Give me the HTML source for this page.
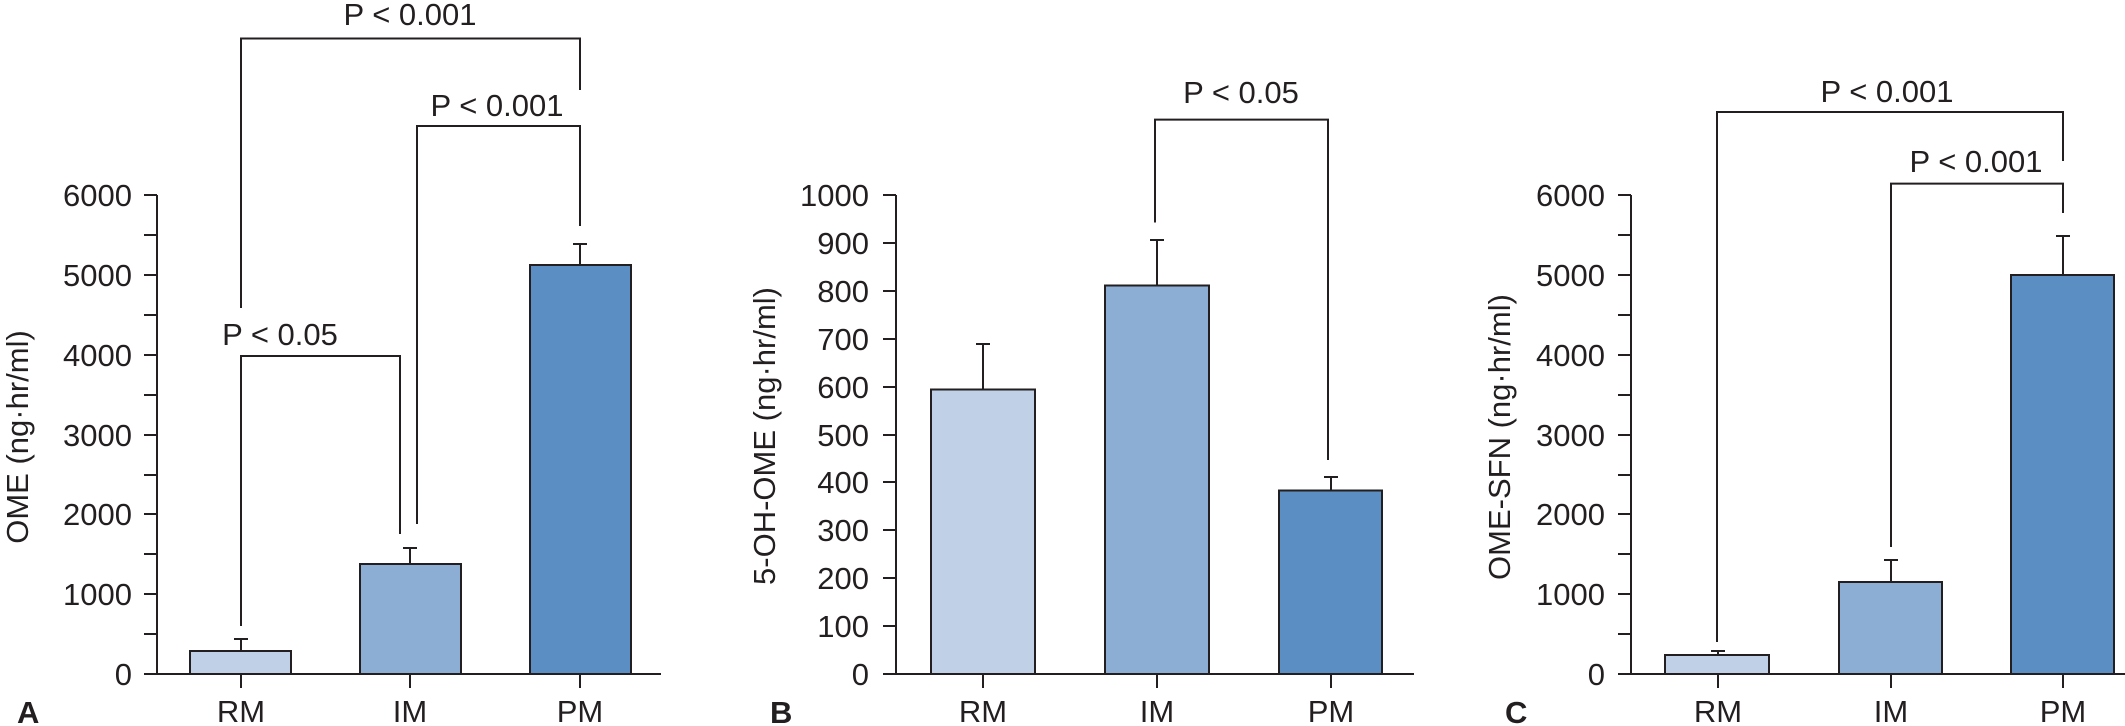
<!DOCTYPE html>
<html><head><meta charset="utf-8"><style>
html,body{margin:0;padding:0;background:#fff;}
svg{display:block;}
text{font-family:"Liberation Sans",sans-serif;fill:#231f20;}
</style></head><body>
<svg width="2125" height="726" viewBox="0 0 2125 726" xmlns="http://www.w3.org/2000/svg">
<g stroke="#231f20" stroke-width="2" fill="none">
<!-- Panel A -->
<line x1="157" y1="195" x2="157" y2="674"/>
<line x1="144" y1="674" x2="661" y2="674"/>
<line x1="144" y1="195" x2="157" y2="195"/>
<line x1="144" y1="235" x2="157" y2="235"/>
<line x1="144" y1="275" x2="157" y2="275"/>
<line x1="144" y1="315" x2="157" y2="315"/>
<line x1="144" y1="355" x2="157" y2="355"/>
<line x1="144" y1="395" x2="157" y2="395"/>
<line x1="144" y1="435" x2="157" y2="435"/>
<line x1="144" y1="475" x2="157" y2="475"/>
<line x1="144" y1="514" x2="157" y2="514"/>
<line x1="144" y1="554" x2="157" y2="554"/>
<line x1="144" y1="594" x2="157" y2="594"/>
<line x1="144" y1="634" x2="157" y2="634"/>
<line x1="241" y1="674" x2="241" y2="688"/>
<line x1="410" y1="674" x2="410" y2="688"/>
<line x1="580" y1="674" x2="580" y2="688"/>
</g>
<rect x="190" y="651" width="101" height="23" fill="#bfd0e7" stroke="#231f20" stroke-width="2"/>
<rect x="360" y="564" width="101" height="110" fill="#8daed4" stroke="#231f20" stroke-width="2"/>
<rect x="530" y="265" width="101" height="409" fill="#5b8fc3" stroke="#231f20" stroke-width="2"/>
<g stroke="#231f20" stroke-width="2" fill="none">
<path d="M241 651V639M234 639H248"/>
<path d="M410 564V548M403 548H417"/>
<path d="M580 265V244M573 244H587"/>
<path d="M241 308V38.5H580V90"/>
<path d="M417 524V126H580V226"/>
<path d="M241 626V356H400V534"/>
</g>
<g font-size="31" text-anchor="end">
<text x="132" y="206">6000</text>
<text x="132" y="286">5000</text>
<text x="132" y="366">4000</text>
<text x="132" y="446">3000</text>
<text x="132" y="525">2000</text>
<text x="132" y="605">1000</text>
<text x="132" y="685">0</text>
</g>
<g font-size="31" text-anchor="middle">
<text x="241" y="722">RM</text>
<text x="410" y="722">IM</text>
<text x="580" y="722">PM</text>
<text x="410" y="25">P &lt; 0.001</text>
<text x="497" y="116">P &lt; 0.001</text>
<text x="280" y="345">P &lt; 0.05</text>
<text transform="translate(28,437) rotate(-90)">OME (ng·hr/ml)</text>
</g>
<text x="17" y="723" font-size="31" font-weight="bold">A</text>

<!-- Panel B -->
<g stroke="#231f20" stroke-width="2" fill="none">
<line x1="896" y1="195" x2="896" y2="674"/>
<line x1="883" y1="674" x2="1414" y2="674"/>
<line x1="883" y1="195" x2="896" y2="195"/>
<line x1="883" y1="243" x2="896" y2="243"/>
<line x1="883" y1="291" x2="896" y2="291"/>
<line x1="883" y1="339" x2="896" y2="339"/>
<line x1="883" y1="387" x2="896" y2="387"/>
<line x1="883" y1="435" x2="896" y2="435"/>
<line x1="883" y1="482" x2="896" y2="482"/>
<line x1="883" y1="530" x2="896" y2="530"/>
<line x1="883" y1="578" x2="896" y2="578"/>
<line x1="883" y1="626" x2="896" y2="626"/>
<line x1="983" y1="674" x2="983" y2="688"/>
<line x1="1157" y1="674" x2="1157" y2="688"/>
<line x1="1331" y1="674" x2="1331" y2="688"/>
</g>
<rect x="931" y="389.5" width="104" height="284.5" fill="#bfd0e7" stroke="#231f20" stroke-width="2"/>
<rect x="1105" y="285.5" width="104" height="388.5" fill="#8daed4" stroke="#231f20" stroke-width="2"/>
<rect x="1279" y="490.5" width="103" height="183.5" fill="#5b8fc3" stroke="#231f20" stroke-width="2"/>
<g stroke="#231f20" stroke-width="2" fill="none">
<path d="M983 389.5V344M976 344H990"/>
<path d="M1157 285.5V240M1150 240H1164"/>
<path d="M1331 490.5V477M1324 477H1338"/>
<path d="M1155 222.5V119.6H1328V460"/>
</g>
<g font-size="31" text-anchor="end">
<text x="869" y="206">1000</text>
<text x="869" y="254">900</text>
<text x="869" y="302">800</text>
<text x="869" y="350">700</text>
<text x="869" y="398">600</text>
<text x="869" y="446">500</text>
<text x="869" y="493">400</text>
<text x="869" y="541">300</text>
<text x="869" y="589">200</text>
<text x="869" y="637">100</text>
<text x="869" y="685">0</text>
</g>
<g font-size="31" text-anchor="middle">
<text x="983" y="722">RM</text>
<text x="1157" y="722">IM</text>
<text x="1331" y="722">PM</text>
<text x="1241" y="103">P &lt; 0.05</text>
<text transform="translate(775,436) rotate(-90)">5-OH-OME (ng·hr/ml)</text>
</g>
<text x="770" y="723" font-size="31" font-weight="bold">B</text>

<!-- Panel C -->
<g stroke="#231f20" stroke-width="2" fill="none">
<line x1="1631" y1="195" x2="1631" y2="674"/>
<line x1="1618" y1="674" x2="2125" y2="674"/>
<line x1="1618" y1="195" x2="1631" y2="195"/>
<line x1="1618" y1="235" x2="1631" y2="235"/>
<line x1="1618" y1="275" x2="1631" y2="275"/>
<line x1="1618" y1="315" x2="1631" y2="315"/>
<line x1="1618" y1="355" x2="1631" y2="355"/>
<line x1="1618" y1="395" x2="1631" y2="395"/>
<line x1="1618" y1="435" x2="1631" y2="435"/>
<line x1="1618" y1="475" x2="1631" y2="475"/>
<line x1="1618" y1="514" x2="1631" y2="514"/>
<line x1="1618" y1="554" x2="1631" y2="554"/>
<line x1="1618" y1="594" x2="1631" y2="594"/>
<line x1="1618" y1="634" x2="1631" y2="634"/>
<line x1="1718" y1="674" x2="1718" y2="688"/>
<line x1="1891" y1="674" x2="1891" y2="688"/>
<line x1="2063" y1="674" x2="2063" y2="688"/>
</g>
<rect x="1665" y="655" width="104" height="19" fill="#bfd0e7" stroke="#231f20" stroke-width="2"/>
<rect x="1839" y="582" width="103" height="92" fill="#8daed4" stroke="#231f20" stroke-width="2"/>
<rect x="2011" y="275" width="103" height="399" fill="#5b8fc3" stroke="#231f20" stroke-width="2"/>
<g stroke="#231f20" stroke-width="2" fill="none">
<path d="M1718 655V651M1711 651H1725"/>
<path d="M1891 582V560M1884 560H1898"/>
<path d="M2063 275V236M2056 236H2070"/>
<path d="M1717 642V112H2063V161"/>
<path d="M1891 547V183.6H2063V213"/>
</g>
<g font-size="31" text-anchor="end">
<text x="1605" y="206">6000</text>
<text x="1605" y="286">5000</text>
<text x="1605" y="366">4000</text>
<text x="1605" y="446">3000</text>
<text x="1605" y="525">2000</text>
<text x="1605" y="605">1000</text>
<text x="1605" y="685">0</text>
</g>
<g font-size="31" text-anchor="middle">
<text x="1718" y="722">RM</text>
<text x="1891" y="722">IM</text>
<text x="2063" y="722">PM</text>
<text x="1887" y="102">P &lt; 0.001</text>
<text x="1976" y="172">P &lt; 0.001</text>
<text transform="translate(1510,437) rotate(-90)">OME-SFN (ng·hr/ml)</text>
</g>
<text x="1505" y="723" font-size="31" font-weight="bold">C</text>
</svg>
</body></html>
